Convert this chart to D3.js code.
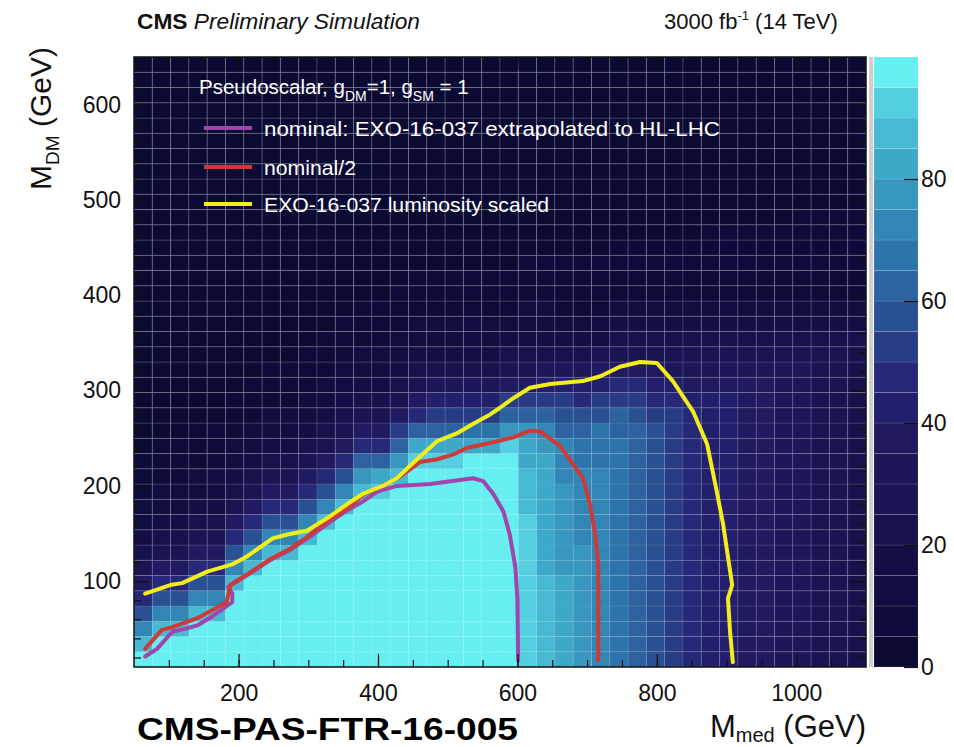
<!DOCTYPE html>
<html>
<head>
<meta charset="utf-8">
<script src="https://cdn.jsdelivr.net/npm/d3@7"></script>
<style>
body { margin: 0; background: #fff; }
text { font-family: "Liberation Sans", Arial, sans-serif; }
</style>
</head>
<body>
<svg id="chart" width="954" height="747"></svg>
<script>
// histogram ranges (GeV) and binning
var mMedRange = [50, 1100];
var mDMRange = [10, 650];
var nBinsX = 40, nBinsY = 40;

// colour level per M_med bin (0..19, each level = 5 units of z),
// read upward from the lowest M_DM bin; bins past the end of a string are 0
var levelCols = [
  "jheb9754322111",
  "jjheb9754322111",
  "jjheb9754322111",
  "jjjheb9754322111",
  "jjjheb9754322111",
  "jjjjjheb9754322111",
  "jjjjjjheb9754322111",
  "jjjjjjjheb9754322111",
  "jjjjjjjheb9754322111",
  "jjjjjjjjheb9754322111",
  "jjjjjjjjjheb9754322111",
  "jjjjjjjjjjheb9754322111",
  "jjjjjjjjjjjhfc9754322111",
  "jjjjjjjjjjjigc9754322111",
  "jjjjjjjjjjjjhfca754322111",
  "jjjjjjjjjjjjjigc9754322111",
  "jjjjjjjjjjjjjigca864322111",
  "jjjjjjjjjjjjjigca864322111",
  "jjjjjjjjjjjjjjgda864322111",
  "jjjjjjjjjjjjjjgda864322111",
  "jjjjjjjjjjjjjjifca75432111",
  "iiiiiiiiiihhhggfca754322111",
  "hhhhhhggggggggfeca864322111",
  "ggggggffffffeeecba864321111",
  "ffffffffeeeeeddcb9864321111",
  "eeeeeeeeeeeeedddba875321111",
  "dddddddddddddddcca9754321111",
  "ccccccccccccccccba9754321111",
  "bbbbbbbbbbbbbbbba98754321111",
  "aaaaaaaaaaaaaaaaa98654321111",
  "9999999999999999987654321111",
  "88888888888888888876543211111",
  "88888888888888888876543211111",
  "77777777777777777776543211111",
  "77777777777777777776543211111",
  "66666666666666666666543211111",
  "666666666666666666665432111111",
  "555555555555555555555432111111",
  "555555555555555555555432111111",
  "444444444444444444444432111111"
];

// exclusion contours [M_med, M_DM]
var purpleLine = [[66,21],[83,29],[105,47],[123,50],[142,54],[162,63],[191,78],[191,87],[185,94],[209,105],[245,122],[274,133],[303,147],[331,162],[353,173],[379,184],[399,194],[427,200],[475,202],[536,208],[551,205],[565,192],[580,173],[589,149],[597,115],[600,82],[601,17]];
var redLine = [[66,29],[90,49],[106,52],[140,61],[183,78],[188,96],[212,107],[245,123],[274,134],[303,149],[331,165],[356,176],[379,191],[407,200],[432,210],[460,225],[485,228],[508,233],[528,240],[561,245],[594,251],[618,258],[633,257],[661,242],[694,208],[704,181],[711,152],[716,117],[716,82],[716,17]];
var yellowLine = [[66,87],[102,96],[119,98],[155,110],[192,118],[212,126],[249,145],[270,149],[298,153],[327,166],[356,181],[379,192],[407,200],[427,208],[456,228],[485,247],[513,255],[536,265],[561,275],[575,282],[594,292],[618,303],[647,307],[694,310],[719,315],[747,325],[776,330],[800,329],[823,310],[852,278],[872,244],[886,194],[895,160],[908,96],[902,82],[905,47],[909,15]];

var legendLabels = ["nominal: EXO-16-037 extrapolated to HL-LHC", "nominal/2", "EXO-16-037 luminosity scaled"];
var lineColors = ["#a045ab", "#cc3b38", "#f2ee1c"];

var xTicks = [200, 400, 600, 800, 1000];
var yTicks = [100, 200, 300, 400, 500, 600];
var zTicks = [0, 20, 40, 60, 80];
var zRange = [0, 100];

// 20-level palette, dark navy -> cyan
var palette = ["#0a0a33","#0d0b3a","#100d40","#130f46","#16124c","#191452","#1c1759","#201a61","#231f6c","#262878",
               "#283c86","#2a5094","#2c62a0","#2d74ab","#3186b5","#3797bf","#3ea8c9","#47b9d3","#54cfe0","#66eef0"];

var svg = d3.select('#chart');
var plot = {left: 134, right: 866, top: 57, bottom: 667};
var cb = {left: 874, right: 918};

var xScale = d3.scaleLinear().domain(mMedRange).range([plot.left, plot.right]);
var yScale = d3.scaleLinear().domain(mDMRange).range([plot.bottom, plot.top]);
var zScale = d3.scaleLinear().domain(zRange).range([plot.bottom, plot.top]);
var colour = d3.scaleQuantize().domain(zRange).range(palette);

var dx = (mMedRange[1] - mMedRange[0]) / nBinsX;
var dy = (mDMRange[1] - mDMRange[0]) / nBinsY;

var cells = [];
levelCols.forEach(function(col, i) {
  for (var j = 0; j < nBinsY; j++) {
    var ch = col.charAt(j);
    var lvl = ch ? parseInt(ch, 20) : 0;
    cells.push({x0: mMedRange[0] + i * dx, y0: mDMRange[0] + j * dy, z: lvl * 5 + 2.5});
  }
});

// heat map
svg.append('g')
  .selectAll('rect')
  .data(cells)
  .enter()
  .append('rect')
  .attr('x', function(d) { return xScale(d.x0); })
  .attr('y', function(d) { return yScale(d.y0 + dy); })
  .attr('width', function(d) { return xScale(d.x0 + dx) - xScale(d.x0); })
  .attr('height', function(d) { return yScale(d.y0) - yScale(d.y0 + dy); })
  .attr('fill', function(d) { return colour(d.z); })
  .attr('stroke', '#ffffff')
  .attr('stroke-width', 1)
  .attr('stroke-opacity', function(d) { return 0.02 + 0.14 * (1 - d.z / 100); });

// contours
svg.append('clipPath').attr('id', 'clip')
  .append('rect')
  .attr('x', plot.left).attr('y', plot.top)
  .attr('width', plot.right - plot.left).attr('height', plot.bottom - plot.top);

var line = d3.line()
  .x(function(d) { return xScale(d[0]); })
  .y(function(d) { return yScale(d[1]); });

var lines = svg.append('g').attr('clip-path', 'url(#clip)');
[purpleLine, redLine, yellowLine].forEach(function(pts, k) {
  lines.append('path')
    .attr('d', line(pts))
    .attr('fill', 'none')
    .attr('stroke', lineColors[k])
    .attr('stroke-width', 4)
    .attr('stroke-linejoin', 'round')
    .attr('stroke-linecap', 'round');
});

// frame
svg.append('rect')
  .attr('x', plot.left).attr('y', plot.top)
  .attr('width', plot.right - plot.left).attr('height', plot.bottom - plot.top)
  .attr('fill', 'none').attr('stroke', '#111').attr('stroke-width', 1.5);

// axes (ticks inside, ROOT style)
function styleAxis(g) {
  g.select('.domain').remove();
  g.selectAll('line').attr('stroke', '#111').attr('stroke-width', 1.2);
  g.selectAll('text').attr('font-size', 23).attr('fill', '#111')
    .attr('font-family', '"Liberation Sans", Arial, sans-serif');
}
var minorX = d3.range(100, 1100, 50);
var minorY = d3.range(20, 650, 20);

svg.append('g').attr('transform', 'translate(0,' + plot.bottom + ')')
  .call(d3.axisBottom(xScale).tickValues(xTicks).tickSize(-13).tickPadding(18).tickFormat(d3.format('d')))
  .call(styleAxis);
svg.append('g').attr('transform', 'translate(0,' + plot.bottom + ')')
  .call(d3.axisBottom(xScale).tickValues(minorX).tickSize(-7).tickFormat(''))
  .call(styleAxis);
svg.append('g').attr('transform', 'translate(0,' + plot.top + ')')
  .call(d3.axisTop(xScale).tickValues(xTicks).tickSize(-13).tickFormat(''))
  .call(styleAxis);
svg.append('g').attr('transform', 'translate(0,' + plot.top + ')')
  .call(d3.axisTop(xScale).tickValues(minorX).tickSize(-7).tickFormat(''))
  .call(styleAxis);

svg.append('g').attr('transform', 'translate(' + plot.left + ',0)')
  .call(d3.axisLeft(yScale).tickValues(yTicks).tickSize(-15).tickPadding(13).tickFormat(d3.format('d')))
  .call(styleAxis);
svg.append('g').attr('transform', 'translate(' + plot.left + ',0)')
  .call(d3.axisLeft(yScale).tickValues(minorY).tickSize(-7).tickFormat(''))
  .call(styleAxis);
svg.append('g').attr('transform', 'translate(' + plot.right + ',0)')
  .call(d3.axisRight(yScale).tickValues(yTicks).tickSize(-15).tickFormat(''))
  .call(styleAxis);
svg.append('g').attr('transform', 'translate(' + plot.right + ',0)')
  .call(d3.axisRight(yScale).tickValues(minorY).tickSize(-7).tickFormat(''))
  .call(styleAxis);

// colour bar
var bands = palette.map(function(c, k) { return {lo: k * 5, hi: k * 5 + 5, c: c}; });
svg.append('rect').attr('x', cb.left - 5).attr('y', plot.top).attr('width', 4)
  .attr('height', plot.bottom - plot.top).attr('fill', '#cfcfcf');
svg.append('g').selectAll('rect').data(bands).enter().append('rect')
  .attr('x', cb.left).attr('width', cb.right - cb.left)
  .attr('y', function(d) { return zScale(d.hi); })
  .attr('height', function(d) { return zScale(d.lo) - zScale(d.hi); })
  .attr('fill', function(d) { return d.c; })
  .attr('stroke', '#ffffff').attr('stroke-opacity', 0.12).attr('stroke-width', 1);
svg.append('g').attr('transform', 'translate(' + cb.right + ',0)')
  .call(d3.axisRight(zScale).tickValues(zTicks).tickSize(-14).tickPadding(3).tickFormat(d3.format('d')))
  .call(styleAxis);

// legend
var legend = svg.append('g').attr('fill', '#ffffff');
var head = legend.append('text').attr('x', 199).attr('y', 94).attr('font-size', 20.5);
head.append('tspan').text('Pseudoscalar, g');
head.append('tspan').attr('dy', 7).attr('font-size', 14).text('DM');
head.append('tspan').attr('dy', -7).text('=1, g');
head.append('tspan').attr('dy', 7).attr('font-size', 14).text('SM');
head.append('tspan').attr('dy', -7).text(' = 1');

var legY = [128, 167, 204];
var legW = [456, 92, 285];
legendLabels.forEach(function(lab, k) {
  legend.append('line')
    .attr('x1', 204).attr('x2', 252).attr('y1', legY[k]).attr('y2', legY[k])
    .attr('stroke', lineColors[k]).attr('stroke-width', 4);
  legend.append('text')
    .attr('x', 264).attr('y', legY[k] + 8)
    .attr('font-size', 21)
    .attr('textLength', legW[k]).attr('lengthAdjust', 'spacingAndGlyphs')
    .text(lab);
});

// header
var h1 = svg.append('text').attr('x', 137).attr('y', 29).attr('font-size', 22).attr('fill', '#111')
  .attr('textLength', 283).attr('lengthAdjust', 'spacingAndGlyphs');
h1.append('tspan').attr('font-weight', 'bold').text('CMS');
h1.append('tspan').attr('font-style', 'italic').text(' Preliminary Simulation');

var h2 = svg.append('text').attr('x', 664).attr('y', 29).attr('font-size', 22).attr('fill', '#111');
h2.append('tspan').text('3000 fb');
h2.append('tspan').attr('dy', -9).attr('font-size', 13).text('-1');
h2.append('tspan').attr('dy', 9).text(' (14 TeV)');

// axis titles
var yt = svg.append('text').attr('transform', 'translate(51,190) rotate(-90)')
  .attr('font-size', 30).attr('fill', '#111');
yt.append('tspan').text('M');
yt.append('tspan').attr('dy', 8).attr('font-size', 19).text('DM');
yt.append('tspan').attr('dy', -8).text(' (GeV)');

var xt = svg.append('text').attr('x', 866).attr('y', 737).attr('text-anchor', 'end')
  .attr('font-size', 31).attr('fill', '#111');
xt.append('tspan').text('M');
xt.append('tspan').attr('dy', 5).attr('font-size', 20).text('med');
xt.append('tspan').attr('dy', -5).text(' (GeV)');

svg.append('text').attr('x', 137).attr('y', 740)
  .attr('font-family', 'Lato, "Liberation Sans", sans-serif').attr('font-weight', 900)
  .attr('font-size', 31).attr('fill', '#000')
  .attr('textLength', 381).attr('lengthAdjust', 'spacingAndGlyphs')
  .text('CMS-PAS-FTR-16-005');
</script>
</body>
</html>
